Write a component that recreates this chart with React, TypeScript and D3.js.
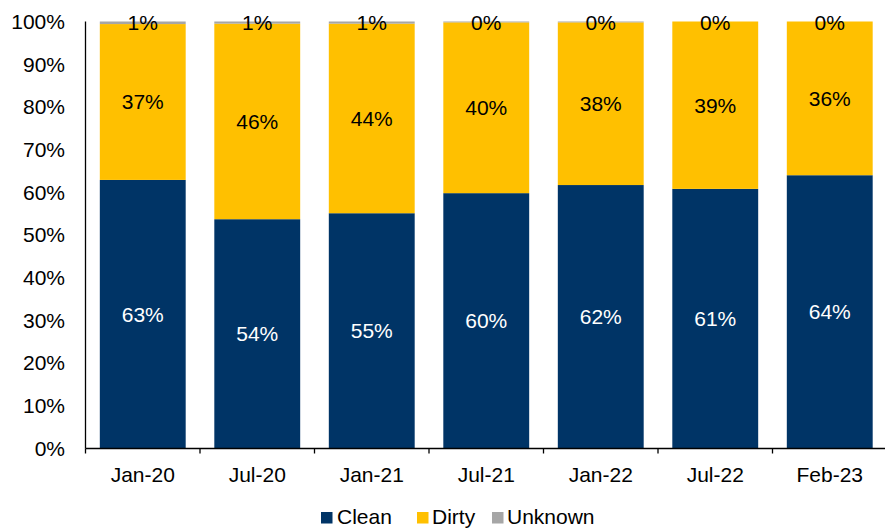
import React from "react";
import * as d3 from "d3";

const categories = ["Jan-20", "Jul-20", "Jan-21", "Jul-21", "Jan-22", "Jul-22", "Feb-23"];
const clean = [62.9, 53.7, 55.1, 59.8, 61.7, 60.8, 64.0];
const dirty = [36.5, 45.8, 44.4, 40.0, 38.1, 39.2, 36.0];
const unknown = [0.6, 0.5, 0.5, 0.2, 0.2, 0, 0];
const cleanLabels = ["63%", "54%", "55%", "60%", "62%", "61%", "64%"];
const dirtyLabels = ["37%", "46%", "44%", "40%", "38%", "39%", "36%"];
const unknownLabels = ["1%", "1%", "1%", "0%", "0%", "0%", "0%"];
const yTicks = [0, 10, 20, 30, 40, 50, 60, 70, 80, 90, 100];

const seriesNames = ["Clean", "Dirty", "Unknown"];
const colors = ["#003466", "#FFC000", "#A6A6A6"];

const W = 885;
const H = 529;
const left = 85.5;
const top = 21.5;
const bottom = 448.5;
const step = 114.5;
const FONT = "'Liberation Sans', Arial, sans-serif";

export default function App() {
  const x = d3
    .scaleBand<string>()
    .domain(categories)
    .range([left, left + step * categories.length])
    .paddingInner(0.25)
    .paddingOuter(0.125);
  const y = d3.scaleLinear().domain([0, 100]).range([bottom, top]);

  const rows = categories.map((c, i) => ({ cat: c, Clean: clean[i], Dirty: dirty[i], Unknown: unknown[i], i }));
  const stack = d3.stack<any>().keys(seriesNames)(rows);
  const labelSets = [cleanLabels, dirtyLabels, unknownLabels];
  const labelColors = ["#FFFFFF", "#000000", "#000000"];

  const boundaries = d3.range(categories.length + 1).map((k) => left + k * step);

  return (
    <svg width={W} height={H} style={{ position: "absolute", left: 0, top: 0 }} fontFamily={FONT}>
      <rect width={W} height={H} fill="#fff" />
      {stack.map((layer, si) => (
        <g key={seriesNames[si]}>
          {layer.map((d, i) =>
            d[1] - d[0] > 0 ? (
              <rect
                key={i}
                x={x(categories[i])}
                width={x.bandwidth()}
                y={y(d[1])}
                height={y(d[0]) - y(d[1])}
                fill={colors[si]}
              />
            ) : null
          )}
        </g>
      ))}
      {stack.map((layer, si) => (
        <g key={"l" + si}>
          {layer.map((d, i) => {
            const cy = si === 2 ? y(100) + 1 : (y(d[0]) + y(d[1])) / 2;
            return (
              <text
                key={i}
                x={(x(categories[i]) as number) + x.bandwidth() / 2}
                y={cy}
                dy="0.35em"
                textAnchor="middle"
                fontSize={21}
                fill={labelColors[si]}
              >
                {labelSets[si][i]}
              </text>
            );
          })}
        </g>
      ))}
      {/* y axis */}
      <line x1={left} x2={left} y1={top} y2={bottom} stroke="#000" strokeWidth={1.3} />
      {yTicks.map((t) => (
        <text key={t} x={65} y={y(t)} dy="0.35em" textAnchor="end" fontSize={21} fill="#000">
          {t}%
        </text>
      ))}
      {/* x axis */}
      <line x1={left} x2={W} y1={bottom} y2={bottom} stroke="#000" strokeWidth={1.3} />
      {boundaries.map((b, k) => (
        <line key={k} x1={b} x2={b} y1={bottom} y2={bottom + 5} stroke="#000" strokeWidth={1.3} />
      ))}
      {categories.map((c) => (
        <text
          key={c}
          x={(x(c) as number) + x.bandwidth() / 2}
          y={475}
          dy="0.35em"
          textAnchor="middle"
          fontSize={21}
          fill="#000"
        >
          {c}
        </text>
      ))}
      {/* legend */}
      {[
        { name: "Clean", sx: 321, tx: 337 },
        { name: "Dirty", sx: 417, tx: 432 },
        { name: "Unknown", sx: 492, tx: 507 },
      ].map((l, k) => (
        <g key={l.name}>
          <rect x={l.sx} y={512} width={11.5} height={11.5} fill={colors[k]} />
          <text x={l.tx} y={517} dy="0.35em" fontSize={21} fill="#000">
            {l.name}
          </text>
        </g>
      ))}
    </svg>
  );
}
